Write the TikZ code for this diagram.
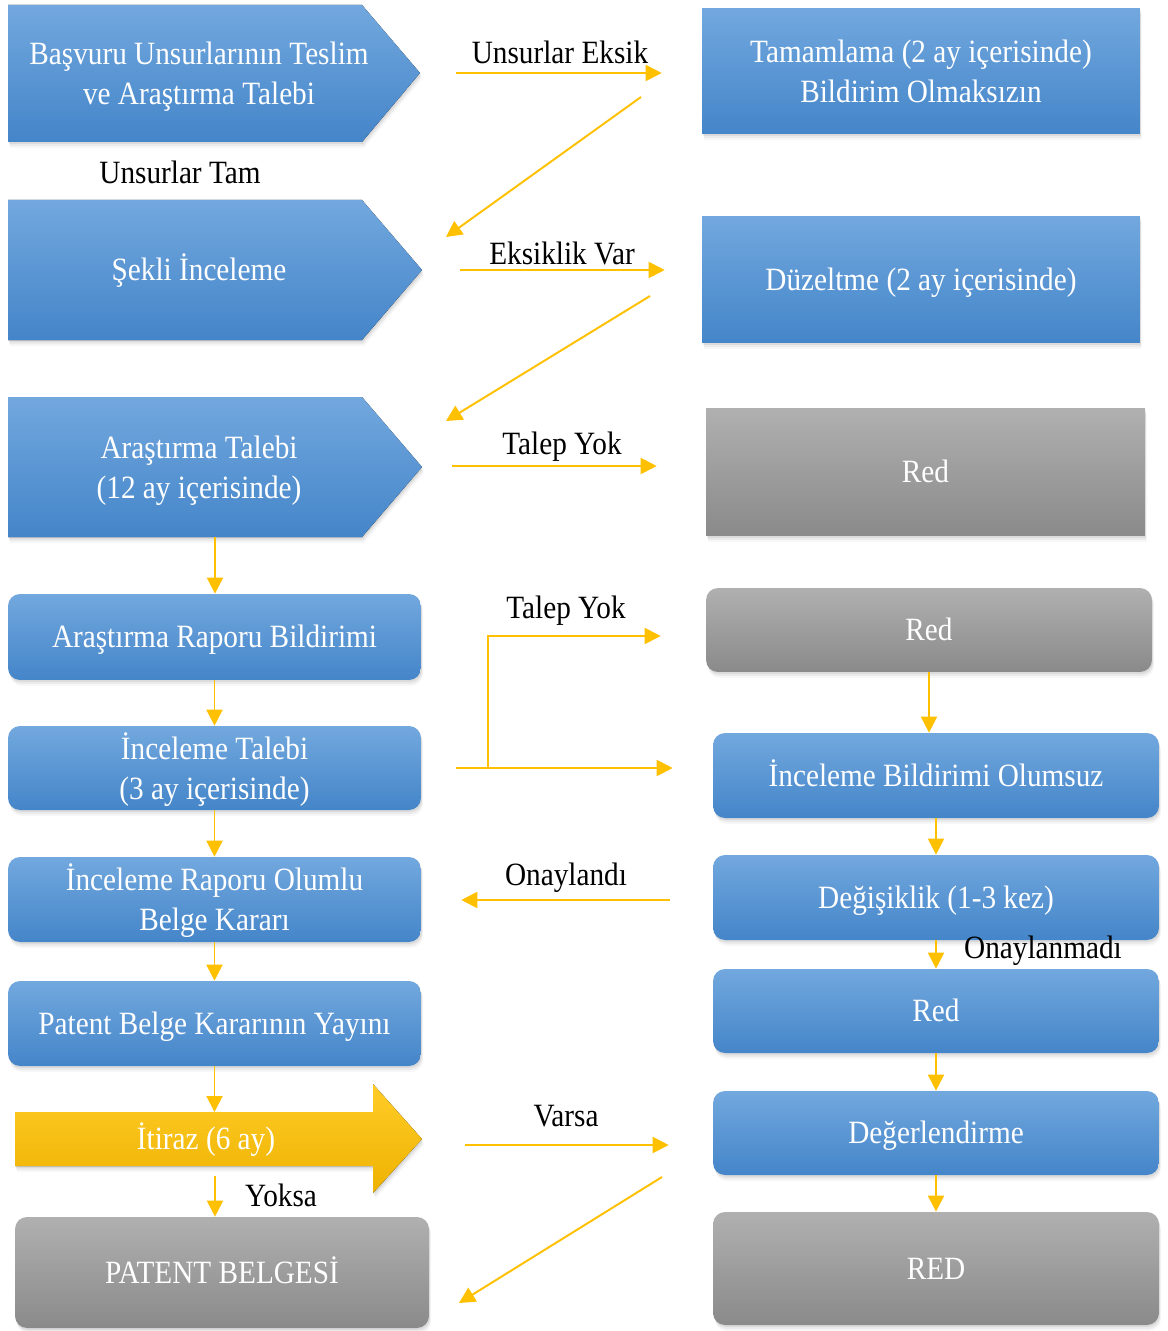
\documentclass[tikz,border=0pt]{standalone}
\usepackage{fontspec}
\setmainfont{Liberation Serif}[FakeStretch=0.9]
\usetikzlibrary{shadows,calc,arrows.meta}
\definecolor{bluetop}{RGB}{114,168,222}
\definecolor{bluebot}{RGB}{68,133,201}
\definecolor{graytop}{RGB}{176,176,176}
\definecolor{graybot}{RGB}{138,138,138}
\definecolor{ylw}{RGB}{255,192,0}
\definecolor{ylwtop}{RGB}{255,204,40}
\definecolor{ylwbot}{RGB}{238,178,0}
\newcommand{\tstr}[1]{\rule{0pt}{#1}}
\begin{document}
\begin{tikzpicture}[x=0.02cm,y=-0.02cm,
  every node/.style={font=\fontsize{18.5}{22.8}\selectfont, align=center},
  shd/.style={
    drop shadow={shadow xshift=0.02cm, shadow yshift=-0.04cm, opacity=0.14},
    drop shadow={shadow xshift=0.03cm, shadow yshift=-0.08cm, opacity=0.10},
    drop shadow={shadow xshift=0.04cm, shadow yshift=-0.12cm, opacity=0.06}},
  bluefill/.style={top color=bluetop, bottom color=bluebot},
  grayfill/.style={top color=graytop, bottom color=graybot},
  ylwfill/.style={top color=ylwtop, bottom color=ylwbot},
  struts/.style={execute at begin node={\rule{0pt}{17.5pt}}, execute at end node={\rule[-5pt]{0pt}{1pt}}},
  box/.style={shd, text=white, inner sep=0pt, rounded corners=0.24cm},
  bbox/.style={box, bluefill},
  gbox/.style={box, grayfill},
  ttext/.style={text=white, inner sep=0pt},
  lbl/.style={text=black, inner sep=0pt},
  arr/.style={draw=ylw, line width=1.1pt, -{Triangle[length=0.32cm,width=0.32cm]}}
]
\fill[white] (0,0) rectangle (1168,1331);
\useasboundingbox (0,0) rectangle (1168,1331);

% ---- left pentagons
\fill[bluefill, shd] (8,5) -- (362,5) -- (420,73) -- (362,142) -- (8,142) -- cycle;
\node[ttext] (p1) at (199,73.5) {\tstr{16pt}Başvuru Unsurlarının Teslim\\ve Araştırma Talebi};
\coordinate (p1tip) at (420,73);

\fill[bluefill, shd] (8,200) -- (362,200) -- (422,270) -- (362,340) -- (8,340) -- cycle;
\node[ttext, struts] (p2) at (199,270) {Şekli İnceleme};
\coordinate (p2tip) at (422,270);

\fill[bluefill, shd] (8,397) -- (362,397) -- (422,467) -- (362,537) -- (8,537) -- cycle;
\node[ttext] (p3) at (199,467) {\tstr{17pt}Araştırma Talebi\\(12 ay içerisinde)};
\coordinate (p3tip) at (422,466);
\coordinate (p3b) at (215,537);

% ---- left rounded boxes
\node[bbox, struts, minimum width=8.26cm, minimum height=1.72cm] (l4) at (214.5,637) {Araştırma Raporu Bildirimi};
\node[bbox, minimum width=8.26cm, minimum height=1.68cm] (l5) at (214.5,768) {\tstr{17pt}İnceleme Talebi\\(3 ay içerisinde)};
\node[bbox, minimum width=8.26cm, minimum height=1.70cm] (l6) at (214.5,899.5) {\tstr{17pt}İnceleme Raporu Olumlu\\Belge Kararı};
\node[bbox, struts, minimum width=8.26cm, minimum height=1.70cm] (l7) at (214.5,1023.5) {Patent Belge Kararının Yayını};

% ---- itiraz arrow
\fill[ylwfill, shd] (15,1112) -- (373,1112) -- (373,1084) -- (422,1139) -- (373,1193) -- (373,1166) -- (15,1166) -- cycle;
\node[ttext, struts] (it) at (206,1139) {İtiraz (6 ay)};
\coordinate (ittop) at (215,1112);
\coordinate (itbot) at (215,1176);
\coordinate (va) at (422,1145);

\node[gbox, struts, minimum width=8.28cm, minimum height=2.22cm] (pb) at (222,1272.5) {PATENT BELGESİ};

% ---- right column
\node[bbox, sharp corners, minimum width=8.76cm, minimum height=2.52cm] (r1) at (921,71) {\tstr{13pt}Tamamlama (2 ay içerisinde)\\Bildirim Olmaksızın};
\node[bbox, struts, sharp corners, minimum width=8.76cm, minimum height=2.54cm] (r2) at (921,279.5) {Düzeltme (2 ay içerisinde)};
\node[gbox, struts, sharp corners, minimum width=8.78cm, minimum height=2.56cm] (r3) at (925.5,472) {Red};
\node[gbox, struts, minimum width=8.92cm, minimum height=1.68cm] (r4) at (929,630) {Red};
\node[bbox, struts, minimum width=8.92cm, minimum height=1.70cm] (r5) at (936,775.5) {İnceleme Bildirimi Olumsuz};
\node[bbox, struts, minimum width=8.92cm, minimum height=1.70cm] (r6) at (936,897.5) {Değişiklik (1-3 kez)};
\node[bbox, struts, minimum width=8.92cm, minimum height=1.68cm] (r7) at (936,1011) {Red};
\node[bbox, struts, minimum width=8.92cm, minimum height=1.68cm] (r8) at (936,1133) {Değerlendirme};
\node[gbox, struts, minimum width=8.92cm, minimum height=2.26cm] (r9) at (936,1268.5) {RED};

% ---- diagonal coordinates
\coordinate (d1a) at (641,97);  \coordinate (d1b) at (446,237);
\coordinate (d2a) at (650,296); \coordinate (d2b) at (446,421);
\coordinate (d3a) at (662,1177); \coordinate (d3b) at (459,1303);
\coordinate (e1) at (488,768);

% ---- connectors
\draw[arr, shorten <=0.72cm, shorten >=0.8cm] (p1tip) -- (p1tip -| r1.west);
\draw[arr] (d1a) -- (d1b);
\draw[arr, shorten <=0.76cm, shorten >=0.74cm] (p2tip) -- (p2tip -| r2.west);
\draw[arr] (d2a) -- (d2b);
\draw[arr, shorten <=0.6cm, shorten >=0.98cm] (p3tip) -- (p3tip -| r3.west);
\draw[arr] (p3b) -- (p3b |- l4.north);
\draw[arr] (l4.south) -- (l5.north);
\draw[arr] (l5.south) -- (l6.north);
\draw[arr] (l6.south) -- (l7.north);
\draw[arr] (l7.south) -- (l7.south |- ittop);
\draw[arr] (itbot) -- (itbot |- pb.north);
\draw[arr, shorten <=0.7cm, shorten >=0.8cm] (l5.east) -- (l5.east -| r5.west);
\draw[arr, shorten >=0.9cm] (e1) |- ($(r4.west)+(0,6)$);
\draw[arr, shorten <=0.86cm, shorten >=0.8cm] ($(l6.east -| r6.west)+(0,0.5)$) -- ($(l6.east)+(0,0.5)$);
\draw[arr] (r4.south) -- (r4.south |- r5.north);
\draw[arr] (r5.south) -- (r6.north);
\draw[arr] (r6.south) -- (r7.north);
\draw[arr] (r7.south) -- (r8.north);
\draw[arr] (r8.south) -- (r9.north);
\draw[arr, shorten <=0.86cm, shorten >=0.88cm] (va) -- (va -| r8.west);
\draw[arr] (d3a) -- (d3b);

% ---- labels
\node[lbl] (t1) at (560,52) {Unsurlar Eksik};
\node[lbl] (t2) at (180,172) {Unsurlar Tam};
\node[lbl] (t3) at (562,253) {Eksiklik Var};
\node[lbl] (t4) at (562,447) {Talep Yok};
\node[lbl] (t5) at (566,611) {Talep Yok};
\node[lbl] (t6) at (566,878) {Onaylandı};
\node[lbl] (t7) at (1043,951) {Onaylanmadı};
\node[lbl] (t8) at (566,1116) {Varsa};
\node[lbl] (t9) at (281,1195) {Yoksa};
\end{tikzpicture}
\end{document}
